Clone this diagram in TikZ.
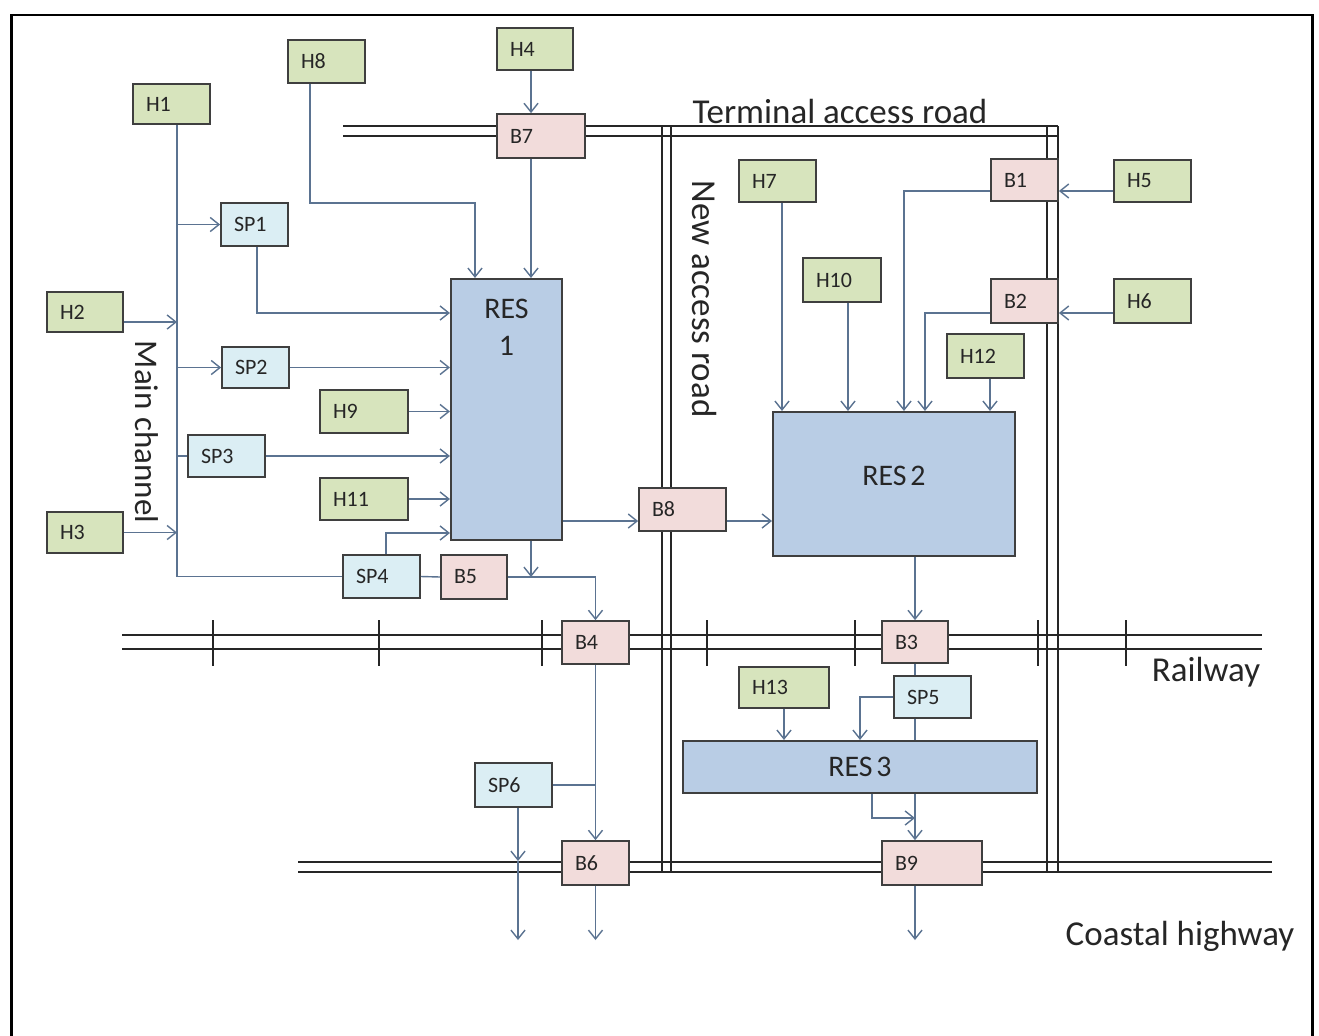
\documentclass[tikz,border=0pt]{standalone}
\usepackage{fontspec}
\setmainfont{Carlito}
\usetikzlibrary{arrows.meta,calc}
\newdimen\pxu \pxu=0.02cm
\definecolor{hgreen}{HTML}{D7E4BD}
\definecolor{spblue}{HTML}{DBEEF4}
\definecolor{bpink}{HTML}{F2DCDB}
\definecolor{resblue}{HTML}{B9CDE5}
\definecolor{bline}{HTML}{3F3F3F}
\definecolor{conncol}{HTML}{5B7391}
\definecolor{roadcol}{HTML}{262626}
\tikzset{
 bx/.style={draw=bline, line width=1pt, inner xsep=7.4pt, inner ysep=0pt, align=left, font=\fontsize{12.5}{14}\selectfont, text=black!85},
 hb/.style={bx, fill=hgreen},
 sb/.style={bx, fill=spblue},
 pb/.style={bx, fill=bpink},
 rb/.style={draw=bline, line width=1.2pt, fill=resblue, inner sep=0pt, align=center, font=\fontsize{17}{21}\selectfont, text=black!85},
 ln/.style={draw=conncol, line width=0.8pt},
 ar/.style={ln, -{Straight Barb[length=5pt, width=8pt]}},
 road/.style={draw=roadcol, line width=1.2pt},
 lbl/.style={font=\fontsize{19.9}{22}\selectfont, text=black!85, inner sep=0pt}
}
\newcommand{\pbox}[7]{%
  \pgfmathsetmacro\bw{(#5-#3)*0.569055}%
  \pgfmathsetmacro\bh{(#6-#4)*0.569055}%
  \pgfmathsetmacro\tw{(#5-#3-26)*0.569055}%
  \node[#2, minimum width=\bw pt, minimum height=\bh pt, text width=\tw pt] (#1) at ({(#3+#5)/2},{(#4+#6)/2}) {#7};}
\begin{document}
\begin{tikzpicture}[x=0.02cm, y=-0.02cm]
\useasboundingbox (0,0) rectangle (1319,1035);
\fill[white] (0,0) rectangle (1319,1035);
\draw[line width=1.7pt] (11.5,1040) -- (11.5,15) -- (1312,15) -- (1312,1040);

% roads
\draw[road] (343,126) -- (1058,126);
\draw[road] (343,136) -- (1058,136);
\draw[road] (662,126) -- (662,872);
\draw[road] (671,126) -- (671,872);
\draw[road] (1047,126) -- (1047,872);
\draw[road] (1058,126) -- (1058,872);
\draw[road] (122,635) -- (1262,635);
\draw[road] (122,649) -- (1262,649);
\foreach \x in {213,379,542,707,855,1038,1126} \draw[road] (\x,620) -- (\x,666);
\draw[road] (298,862) -- (1272,862);
\draw[road] (298,872) -- (1272,872);

% road labels
\node[lbl] (tar) at (840,111) {Terminal access road};
\node[lbl, rotate=-90] (nar) at (705,299) {New access road};
\node[lbl, rotate=-90, font=\fontsize{18.8}{20}\selectfont] (mch) at (147,432) {Main channel};
\node[lbl] (rw) at (1206,672) {Railway};
\node[lbl] (ch) at (1180,936) {Coastal highway};

% boxes
\pbox{H1}{hb}{133}{84}{210}{124}{H1}
\pbox{H8}{hb}{288}{40}{365}{83}{H8}
\pbox{H4}{hb}{497}{28}{573}{70}{H4}
\pbox{B7}{pb}{497}{114}{585}{158}{B7}
\pbox{H2}{hb}{47}{292}{123}{332}{H2}
\pbox{SP1}{sb}{221}{203}{288}{246}{SP1}
\pbox{SP2}{sb}{222}{347}{289}{388}{SP2}
\pbox{H9}{hb}{320}{390}{408}{433}{H9}
\pbox{SP3}{sb}{188}{435}{265}{477}{SP3}
\pbox{H11}{hb}{320}{478}{408}{520}{H11}
\pbox{H3}{hb}{47}{512}{123}{553}{H3}
\pbox{RES1}{rb, label={[font=\fontsize{17}{21}\selectfont, align=center, anchor=north, yshift=-8.5pt, text=black!85]north:RES\\1}}{451}{279}{562}{540}{}
\pbox{SP4}{sb}{343}{555}{420}{598}{SP4}
\pbox{B5}{pb}{441}{555}{507}{599}{B5}
\pbox{B8}{pb}{639}{488}{726}{531}{B8}
\pbox{B4}{pb}{562}{621}{629}{664}{B4}
\pbox{SP6}{sb}{475}{763}{552}{807}{SP6}
\pbox{B6}{pb}{562}{841}{629}{885}{B6}
\pbox{H7}{hb}{739}{160}{816}{202}{H7}
\pbox{H10}{hb}{803}{258}{881}{302}{H10}
\pbox{B1}{pb}{991}{159}{1058}{201}{B1}
\pbox{H5}{hb}{1114}{160}{1191}{202}{H5}
\pbox{B2}{pb}{991}{279}{1058}{323}{B2}
\pbox{H6}{hb}{1114}{279}{1191}{323}{H6}
\pbox{H12}{hb}{947}{334}{1024}{378}{H12}
\pbox{RES2}{rb}{773}{412}{1015}{556}{\raisebox{9pt}{RES\hspace{0.13em}2}}
\pbox{B3}{pb}{882}{621}{948}{663}{B3}
\pbox{H13}{hb}{739}{667}{829}{708}{H13}
\pbox{SP5}{sb}{894}{676}{971}{718}{SP5}
\pbox{RES3}{rb}{683}{741}{1037}{793}{RES\hspace{0.13em}3}
\pbox{B9}{pb}{882}{841}{982}{885}{B9}

% main channel
\coordinate (mc) at (177,0);
\draw[ln] (mc |- H1.south) -- (mc |- SP4.west) -- (SP4.west);
\draw[ar] (mc |- SP1.west) -- (SP1.west);
\coordinate (h2o) at ([yshift=-10\pxu]H2.east);
\draw[ar] (h2o) -- (mc |- h2o);
\draw[ar] (mc |- SP2.west) -- (SP2.west);
\draw[ln] (mc |- SP3.west) -- (SP3.west);
\draw[ar] (H3.east) -- (mc |- H3.east);

% into RES1
\coordinate (h8x) at (310,203);
\coordinate (r1a) at (475,203);
\draw[ar] (h8x |- H8.south) -- (h8x) -- (r1a) -- (r1a |- RES1.north);
\coordinate (b7x) at (531,0);
\draw[ar] (b7x |- H4.south) -- (b7x |- B7.north);
\draw[ar] (b7x |- B7.south) -- (b7x |- RES1.north);
\coordinate (sp1c) at (257,313);
\draw[ar] (sp1c |- SP1.south) -- (sp1c) -- (RES1.west |- sp1c);
\draw[ar] (SP2.east) -- (RES1.west |- SP2.east);
\draw[ar] (H9.east) -- (RES1.west |- H9.east);
\draw[ar] (SP3.east) -- (RES1.west |- SP3.east);
\draw[ar] (H11.east) -- (RES1.west |- H11.east);
\coordinate (sp4c) at (386,533);
\draw[ar] (sp4c |- SP4.north) -- (sp4c) -- (RES1.west |- sp4c);
\draw[ln] (SP4.east) -- (B5.west);
\draw[ar] (B5.east) -| (B4.north);
\draw[ar] (b7x |- RES1.south) -- (b7x |- B5.east);

% B8
\coordinate (b8y) at (0,521);
\draw[ar] (RES1.east |- b8y) -- (B8.west |- b8y);
\draw[ar] (B8.east |- b8y) -- (RES2.west |- b8y);

% south of B4
\draw[ar] (B4.south) -- (B6.north);
\draw[ln] (SP6.east) -- (B4.south |- SP6.east);
\coordinate (sp6x) at (518,0);
\coordinate (hwy) at (0,861);
\coordinate (outy) at (0,940);
\draw[ar] (sp6x |- SP6.south) -- (sp6x |- hwy);
\draw[ar] (sp6x |- hwy) -- (sp6x |- outy);
\draw[ar] (B6.south) -- (B6.south |- outy);

% RES2 inputs
\coordinate (h7x) at (782,0);
\draw[ar] (h7x |- H7.south) -- (h7x |- RES2.north);
\coordinate (h10x) at (848,0);
\draw[ar] (h10x |- H10.south) -- (h10x |- RES2.north);
\coordinate (b1c) at (904,191);
\draw[ar] (B1.west |- b1c) -- (b1c) -- (b1c |- RES2.north);
\coordinate (b2c) at (925,313);
\draw[ar] (B2.west |- b2c) -- (b2c) -- (b2c |- RES2.north);
\coordinate (h12x) at (990,0);
\draw[ar] (h12x |- H12.south) -- (h12x |- RES2.north);
\draw[ar] (H5.west |- b1c) -- (B1.east |- b1c);
\draw[ar] (H6.west |- b2c) -- (B2.east |- b2c);

% RES2 downstream
\coordinate (b3x) at (915,0);
\draw[ar] (b3x |- RES2.south) -- (b3x |- B3.north);
\draw[ln] (b3x |- B3.south) -- (b3x |- SP5.north);
\draw[ln] (b3x |- SP5.south) -- (b3x |- RES3.north);
\coordinate (sp5c) at (860,0);
\draw[ar] (SP5.west) -| (sp5c |- RES3.north);
\draw[ar] (H13.south) -- (H13.south |- RES3.north);
\draw[ar] (b3x |- RES3.south) -- (b3x |- B9.north);
\coordinate (r3c) at (872,818);
\draw[ar] (r3c |- RES3.south) -- (r3c) -- (b3x |- r3c);
\draw[ar] (b3x |- B9.south) -- (b3x |- outy);
\end{tikzpicture}
\end{document}
